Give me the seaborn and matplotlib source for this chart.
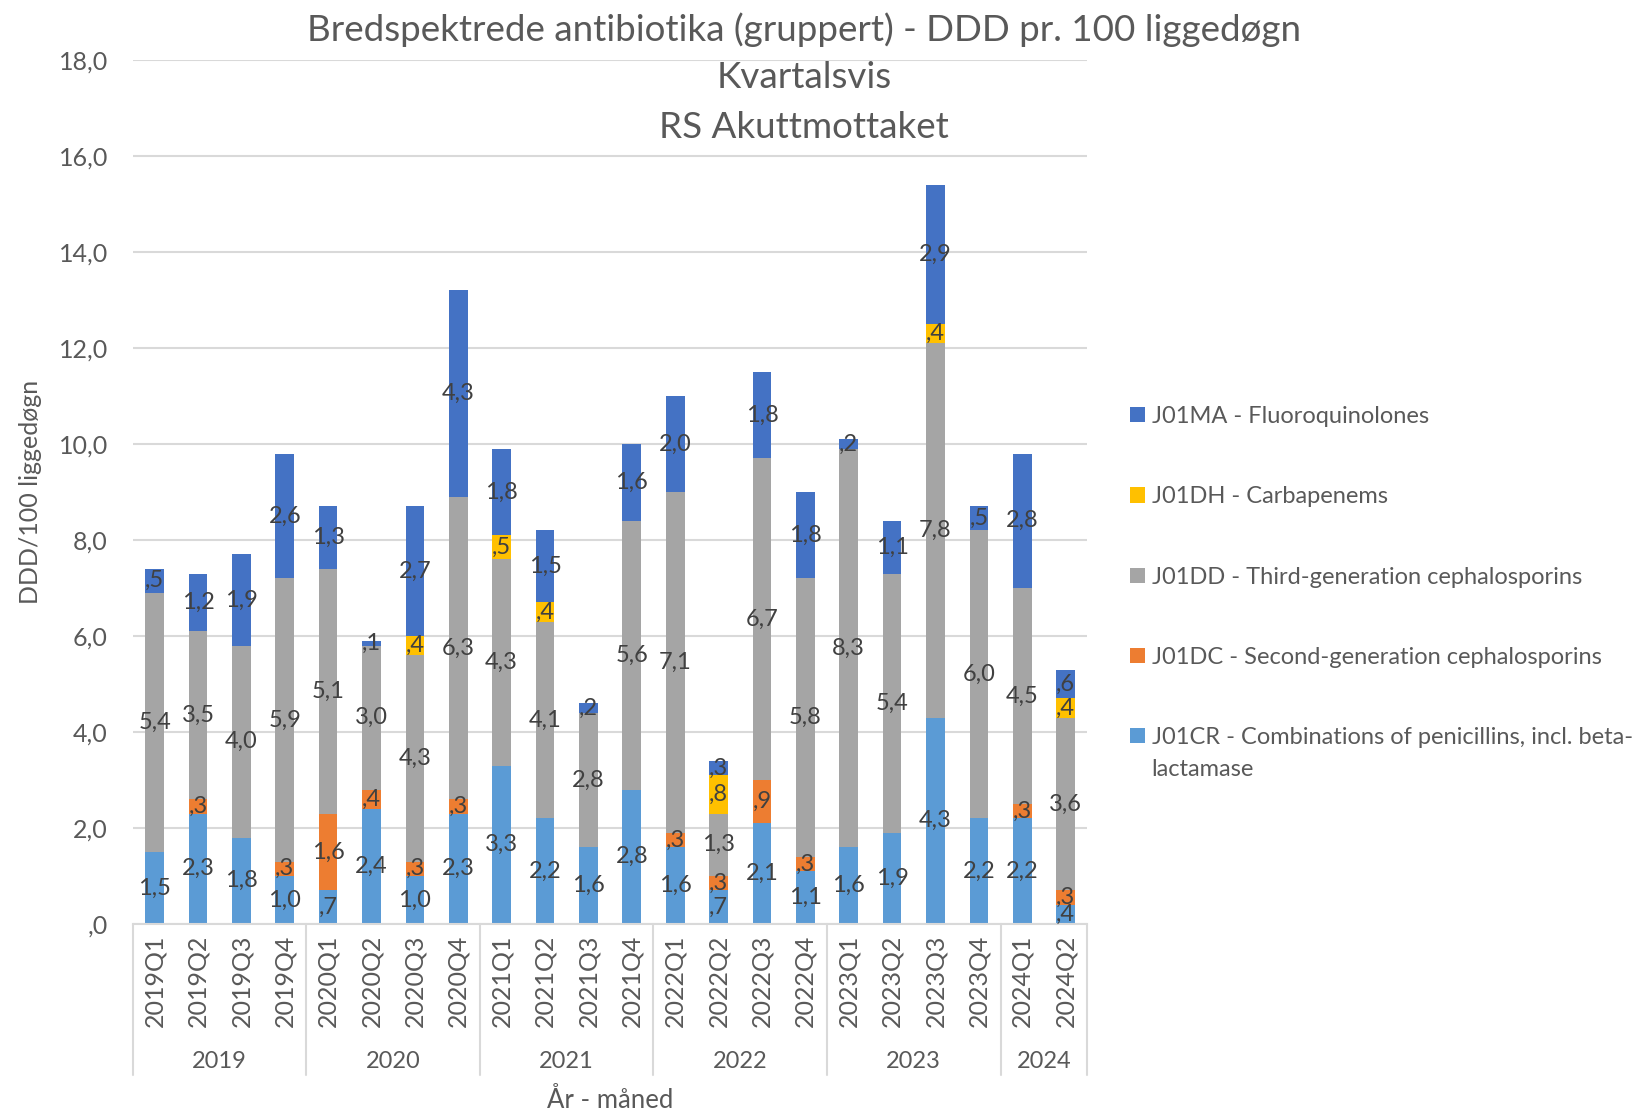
import numpy as np
import pandas as pd
import matplotlib
matplotlib.use("Agg")
import matplotlib.pyplot as plt
import matplotlib.transforms as mtransforms
from matplotlib.patches import Patch
import seaborn as sns

quarters = ["2019Q1", "2019Q2", "2019Q3", "2019Q4",
            "2020Q1", "2020Q2", "2020Q3", "2020Q4",
            "2021Q1", "2021Q2", "2021Q3", "2021Q4",
            "2022Q1", "2022Q2", "2022Q3", "2022Q4",
            "2023Q1", "2023Q2", "2023Q3", "2023Q4",
            "2024Q1", "2024Q2"]
years = ["2019", "2020", "2021", "2022", "2023", "2024"]
year_sizes = [4, 4, 4, 4, 4, 2]

j01cr = [1.5, 2.3, 1.8, 1.0, 0.7, 2.4, 1.0, 2.3, 3.3, 2.2, 1.6, 2.8,
         1.6, 0.7, 2.1, 1.1, 1.6, 1.9, 4.3, 2.2, 2.2, 0.4]
j01dc = [0.0, 0.3, 0.0, 0.3, 1.6, 0.4, 0.3, 0.3, 0.0, 0.0, 0.0, 0.0,
         0.3, 0.3, 0.9, 0.3, 0.0, 0.0, 0.0, 0.0, 0.3, 0.3]
j01dd = [5.4, 3.5, 4.0, 5.9, 5.1, 3.0, 4.3, 6.3, 4.3, 4.1, 2.8, 5.6,
         7.1, 1.3, 6.7, 5.8, 8.3, 5.4, 7.8, 6.0, 4.5, 3.6]
j01dh = [0.0, 0.0, 0.0, 0.0, 0.0, 0.0, 0.4, 0.0, 0.5, 0.4, 0.0, 0.0,
         0.0, 0.8, 0.0, 0.0, 0.0, 0.0, 0.4, 0.0, 0.0, 0.4]
j01ma = [0.5, 1.2, 1.9, 2.6, 1.3, 0.1, 2.7, 4.3, 1.8, 1.5, 0.2, 1.6,
         2.0, 0.3, 1.8, 1.8, 0.2, 1.1, 2.9, 0.5, 2.8, 0.6]

names = ["J01CR - Combinations of penicillins, incl. beta-lactamase",
         "J01DC - Second-generation cephalosporins",
         "J01DD - Third-generation cephalosporins",
         "J01DH - Carbapenems",
         "J01MA - Fluoroquinolones"]
colors = ["#5B9BD5", "#ED7D31", "#A5A5A5", "#FFC000", "#4472C4"]
series_vals = [j01cr, j01dc, j01dd, j01dh, j01ma]

sns.set_theme(style="white")
plt.rcParams['font.family'] = ['Lato', 'DejaVu Sans']

TXT = "#595959"
LBL = "#404040"
GRID = "#D9D9D9"


def fmt(v):
    s = f"{v:.1f}".replace(".", ",")
    if s.startswith("0"):
        s = s[1:]
    return s


fig = plt.figure(figsize=(16.37, 11.14), dpi=100)
ax = fig.add_axes([0.0812, 0.1706, 0.583, 0.7756])

bottom = np.zeros(len(quarters))
for name, vals, col in zip(names, series_vals, colors):
    df = pd.DataFrame({"q": quarters, "v": vals})
    sns.barplot(data=df, x="q", y="v", order=quarters, color=col,
                saturation=1, width=0.43, errorbar=None, bottom=bottom.copy(),
                linewidth=0, ax=ax, zorder=2)
    cont = ax.containers[-1]
    labels = [fmt(v) if v > 0 else "" for v in vals]
    ax.bar_label(cont, labels=labels, label_type="center", color=LBL,
                 fontsize=17, zorder=5)
    bottom = bottom + np.array(vals)

ax.set_xlim(-0.5, len(quarters) - 0.5)
ax.set_ylim(0, 18)
yt = np.arange(0, 19, 2)
ax.set_yticks(yt)
ax.set_yticklabels([fmt(v) if v > 0 else ",0" for v in yt])
ax.yaxis.grid(True, color=GRID, lw=1.5)
ax.xaxis.grid(False)
ax.set_axisbelow(True)
for s in ["left", "top", "right"]:
    ax.spines[s].set_visible(False)
ax.spines["bottom"].set_color(GRID)
ax.spines["bottom"].set_linewidth(1.5)
ax.tick_params(axis="y", length=0, labelsize=18, labelcolor=TXT, pad=18)
ax.tick_params(axis="x", length=0, labelsize=18, labelcolor=TXT, pad=8,
               labelrotation=90)
ax.set_xlabel("")
ax.set_ylabel("")

trans = mtransforms.blended_transform_factory(ax.transData, ax.transAxes)
start = -0.5
for yr, n in zip(years, year_sizes):
    ax.plot([start, start], [0, -0.175], transform=trans, clip_on=False,
            color=GRID, lw=1.5)
    ax.text(start + n / 2, -0.159, yr, transform=trans, ha="center",
            va="center", fontsize=17, color=TXT)
    start += n
ax.plot([start, start], [0, -0.175], transform=trans, clip_on=False,
        color=GRID, lw=1.5)

fig.text(0.5 * (0.0812 * 2 + 0.583), 1 - 1101 / 1114, "År - måned",
         ha="center", va="center", fontsize=18.5, color=TXT)
fig.text(31 / 1637, 1 - 492 / 1114, "DDD/100 liggedøgn", rotation=90,
         ha="center", va="center", fontsize=18, color=TXT)

titles = ["Bredspektrede antibiotika (gruppert) - DDD pr. 100 liggedøgn",
          "Kvartalsvis", "RS Akuttmottaket"]
for t, yy in zip(titles, [30, 77, 127]):
    fig.text(804 / 1637, 1 - yy / 1114, t, ha="center", va="center",
             fontsize=26.5, color=TXT)

order = [4, 3, 2, 1, 0]
handles = [Patch(facecolor=colors[i], edgecolor="none") for i in order]
leg_labels = [names[i] for i in order]
leg_labels[-1] = "J01CR - Combinations of penicillins, incl. beta-"
leg = fig.legend(handles, leg_labels, loc="upper left",
                 bbox_to_anchor=(1130 / 1637, 1 - 406 / 1114),
                 frameon=False, fontsize=17, handlelength=0.62,
                 handleheight=0.62, handletextpad=0.3, labelspacing=2.51,
                 borderpad=0, borderaxespad=0, labelcolor=TXT)

fig.canvas.draw()
last = leg.get_texts()[-1]
bb = last.get_window_extent()
inv = fig.transFigure.inverted()
(x0, y0) = inv.transform((bb.x0, bb.y0))
(x1, y1) = inv.transform((bb.x1, bb.y1))
fig.text(x0, y0 - (y1 - y0) * 1.0, "lactamase", ha="left", va="center",
         fontsize=17, color=TXT)

fig.savefig("out.png", dpi=100)
